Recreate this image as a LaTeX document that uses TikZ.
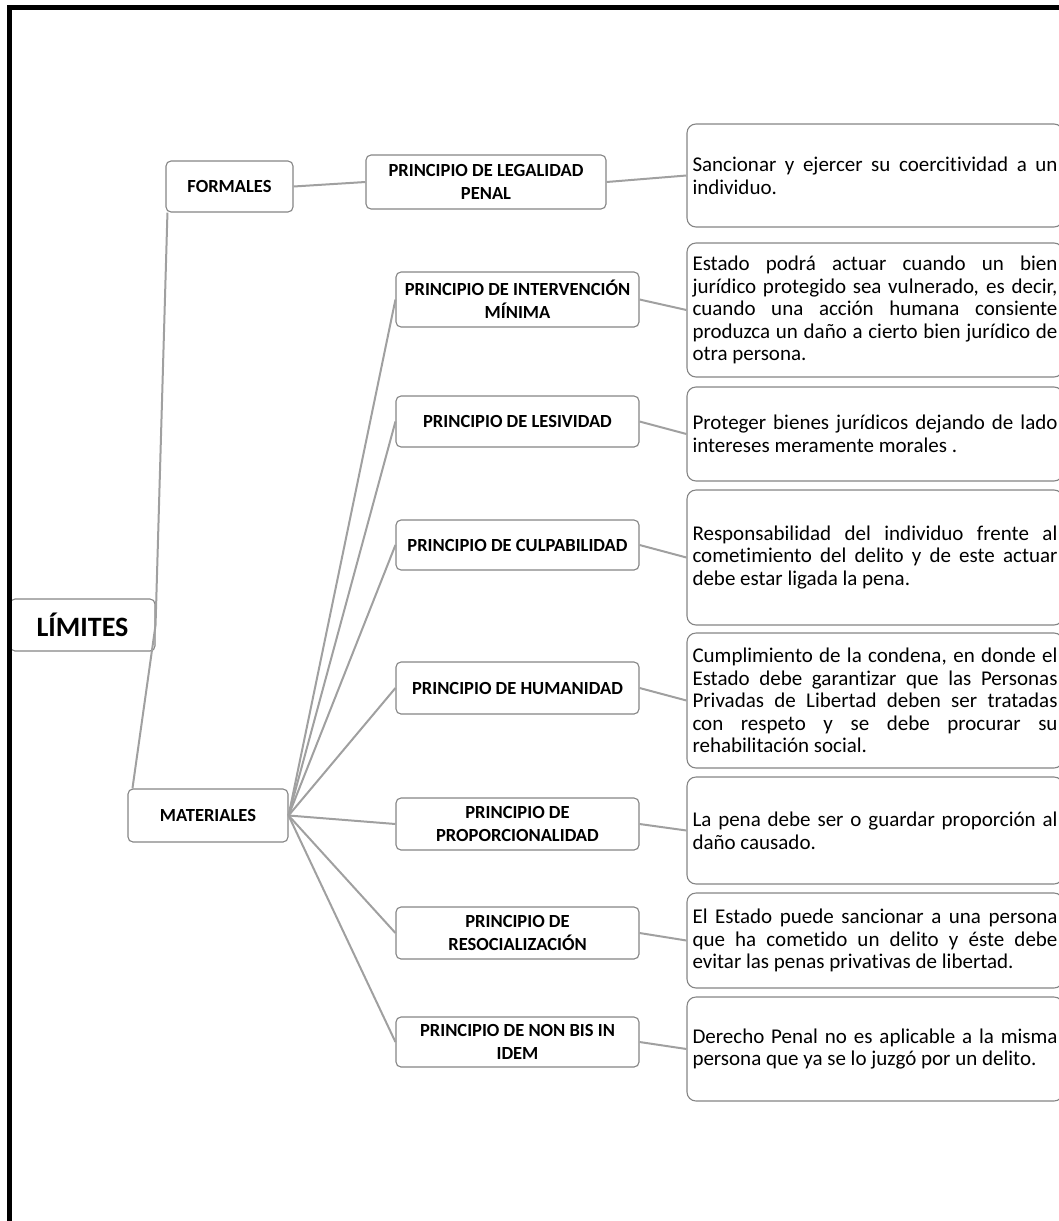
\documentclass[tikz,border=0pt]{standalone}
\usepackage{fontspec}
\setmainfont{Carlito}[Ligatures={NoCommon}]
\definecolor{boxgray}{HTML}{858585}
\definecolor{conngray}{HTML}{A0A0A0}
\begin{document}
\begin{tikzpicture}[x=1pt,y=-1pt,
  bx/.style={draw=boxgray, line width=1.1pt, rounded corners=5pt, fill=white, inner sep=0pt, align=center, font=\fontsize{18.5}{23}\selectfont\bfseries, text=black},
  dsc/.style={draw=boxgray, line width=1.1pt, rounded corners=9pt, fill=white, inner xsep=5.5pt, inner ysep=0pt, text width=365pt, align=justify, font=\fontsize{21}{22.6}\selectfont, execute at begin node={\tolerance=10000\hyphenpenalty=10000\relax}},
  conn/.style={draw=conngray, line width=2pt}]
\useasboundingbox (0,0) rectangle (1059,1221);

% left column
\node[bx, minimum width=145pt, minimum height=52pt, font=\fontsize{28}{30}\selectfont\bfseries] (limites) at (82.5,625) {LÍMITES};
\node[bx, minimum width=127pt, minimum height=51pt] (formales) at (229.5,186.5) {FORMALES};
\node[bx, minimum width=160pt, minimum height=53pt] (materiales) at (208,815.5) {MATERIALES};

% principles
\node[bx, minimum width=240pt, minimum height=54pt] (legalidad) at (486,182) {PRINCIPIO DE LEGALIDAD\\PENAL};
\node[bx, minimum width=243pt, minimum height=55pt] (intervencion) at (517.5,299.5) {PRINCIPIO DE INTERVENCIÓN\\MÍNIMA};
\node[bx, minimum width=243pt, minimum height=51pt] (lesividad) at (517.5,421.5) {PRINCIPIO DE LESIVIDAD};
\node[bx, minimum width=243pt, minimum height=50pt] (culpabilidad) at (517.5,545) {PRINCIPIO DE CULPABILIDAD};
\node[bx, minimum width=243pt, minimum height=52pt] (humanidad) at (517.5,688) {PRINCIPIO DE HUMANIDAD};
\node[bx, minimum width=243pt, minimum height=52pt] (proporcionalidad) at (517.5,824) {PRINCIPIO DE\\PROPORCIONALIDAD};
\node[bx, minimum width=243pt, minimum height=52pt] (resocializacion) at (517.5,933) {PRINCIPIO DE\\RESOCIALIZACIÓN};
\node[bx, minimum width=243pt, minimum height=50pt] (nonbis) at (517.5,1042) {PRINCIPIO DE NON BIS IN\\IDEM};

% descriptions
\node[dsc, minimum height=103pt] (d1) at (875,175.5) {Sancionar y ejercer su coercitividad a un\linebreak individuo.};
\node[dsc, minimum height=134pt] (d2) at (875,310) {Estado podrá actuar cuando un bien\linebreak jurídico protegido sea vulnerado, es decir,\linebreak cuando una acción humana consiente\linebreak produzca un daño a cierto bien jurídico de\linebreak otra persona.};
\node[dsc, minimum height=94pt] (d3) at (875,434) {Proteger bienes jurídicos dejando de lado\linebreak intereses meramente morales .};
\node[dsc, minimum height=135pt] (d4) at (875,557.5) {Responsabilidad del individuo frente al\linebreak cometimiento del delito y de este actuar\linebreak debe estar ligada la pena.};
\node[dsc, minimum height=135pt] (d5) at (875,700.5) {Cumplimiento de la condena, en donde el\linebreak Estado debe garantizar que las Personas\linebreak Privadas de Libertad deben ser tratadas\linebreak con respeto y se debe procurar su\linebreak rehabilitación social.};
\node[dsc, minimum height=107pt] (d6) at (875,830.5) {La pena debe ser o guardar proporción al\linebreak daño causado.};
\node[dsc, minimum height=95pt] (d7) at (875,940.5) {El Estado puede sancionar a una persona\linebreak que ha cometido un delito y éste debe\linebreak evitar las penas privativas de libertad.};
\node[dsc, minimum height=104pt] (d8) at (875,1049) {Derecho Penal no es aplicable a la misma\linebreak persona que ya se lo juzgó por un delito.};

% connectors
\draw[conn] (limites.east) -- ([xshift=2pt]formales.south west);
\draw[conn] (limites.east) -- ([xshift=5pt]materiales.north west);
\draw[conn] (formales.east) -- (legalidad.west);
\foreach \t in {intervencion,lesividad,culpabilidad,humanidad,proporcionalidad,resocializacion,nonbis}
  \draw[conn] (materiales.east) -- (\t.west);
\draw[conn] (legalidad.east) -- (d1.west);
\draw[conn] (intervencion.east) -- (d2.west);
\draw[conn] (lesividad.east) -- (d3.west);
\draw[conn] (culpabilidad.east) -- (d4.west);
\draw[conn] (humanidad.east) -- (d5.west);
\draw[conn] (proporcionalidad.east) -- (d6.west);
\draw[conn] (resocializacion.east) -- (d7.west);
\draw[conn] (nonbis.east) -- (d8.west);

% frame
\draw[line width=5pt, line join=miter] (1070,7.5) -- (9.5,7.5) -- (9.5,1230);
\end{tikzpicture}
\end{document}
